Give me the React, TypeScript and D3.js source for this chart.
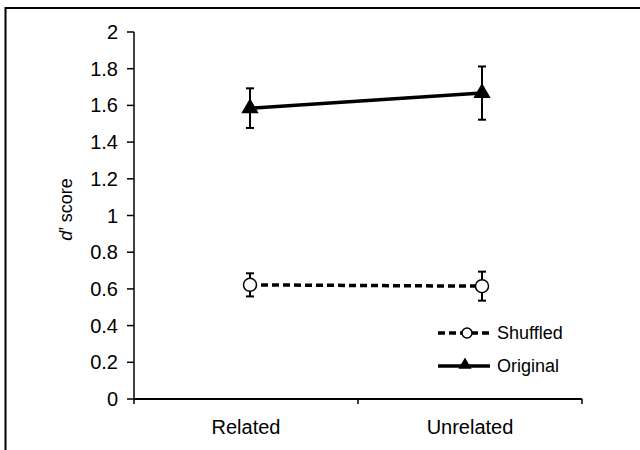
import React from 'react';
import * as d3 from 'd3';

// chart values
const categories = ['Related', 'Unrelated'];
const originalMeans = [1.585, 1.667];
const originalErrors = [0.108, 0.145];
const shuffledMeans = [0.622, 0.615];
const shuffledErrors = [0.063, 0.079];
const yTicks = [0, 0.2, 0.4, 0.6, 0.8, 1, 1.2, 1.4, 1.6, 1.8, 2];

const width = 640;
const height = 450;
const FONT = '"Liberation Sans", Arial, sans-serif';

const App = () => {
  const plot = { left: 134, right: 582, top: 32, bottom: 399 };

  const yScale = d3.scaleLinear().domain([0, 2]).range([plot.bottom, plot.top]);
  const xBand = d3.scaleBand().domain(categories).range([plot.left, plot.right]);
  // Excel places markers a little right of the band centre
  const xPoint = d3.scalePoint().domain(categories).range([250, 482]);

  const line = d3.line<number>()
    .x((_, i) => xPoint(categories[i]) as number)
    .y(d => yScale(d));

  const triangle = d3.symbol().type(d3.symbolTriangle).size(130);

  const dash = '7,4';

  const errorBar = (cx: number, mean: number, err: number, key: string) => {
    const y1 = yScale(mean + err);
    const y2 = yScale(mean - err);
    return (
      <g key={key} stroke="#000" strokeWidth={2}>
        <line x1={cx} x2={cx} y1={y1} y2={y2} />
        <line x1={cx - 4} x2={cx + 4} y1={y1} y2={y1} />
        <line x1={cx - 4} x2={cx + 4} y1={y2} y2={y2} />
      </g>
    );
  };

  const xTickPositions = [...categories.map(c => xBand(c) as number), plot.right];

  return (
    <svg
      width={width}
      height={height}
      style={{ position: 'absolute', left: 0, top: 0, background: '#fff' }}
      fontFamily={FONT}
    >
      <rect x={0} y={0} width={width} height={height} fill="#fff" />
      {/* outer frame, clipped on the right and bottom */}
      <path d={`M5.5,${height + 2}V8H${width + 2}`} fill="none" stroke="#000" strokeWidth={2} />

      {/* y axis */}
      <line x1={plot.left} x2={plot.left} y1={plot.top} y2={plot.bottom} stroke="#000" strokeWidth={1.5} />
      {yTicks.map(t => (
        <g key={t} transform={`translate(0,${yScale(t)})`}>
          <line x1={plot.left - 7} x2={plot.left} stroke="#000" strokeWidth={1.5} />
          <text x={plot.left - 16} dy="0.35em" textAnchor="end" fontSize={20} fill="#000">
            {t}
          </text>
        </g>
      ))}
      <text
        transform={`translate(72,${(plot.top + plot.bottom) / 2 - 6}) rotate(-90)`}
        textAnchor="middle"
        fontSize={18}
        fill="#000"
      >
        <tspan fontStyle="italic">d</tspan>’ score
      </text>

      {/* x axis */}
      <line x1={plot.left} x2={plot.right} y1={plot.bottom} y2={plot.bottom} stroke="#000" strokeWidth={2} />
      {xTickPositions.map((x, i) => (
        <line key={i} x1={x} x2={x} y1={plot.bottom} y2={plot.bottom + 5} stroke="#000" strokeWidth={1.5} />
      ))}
      {categories.map(c => (
        <text
          key={c}
          x={(xBand(c) as number) + xBand.bandwidth() / 2}
          y={434}
          textAnchor="middle"
          fontSize={20}
          fill="#000"
        >
          {c}
        </text>
      ))}

      {/* Original series */}
      <path d={line(originalMeans) as string} fill="none" stroke="#000" strokeWidth={3.5} />
      {originalMeans.map((m, i) =>
        errorBar(xPoint(categories[i]) as number, m, originalErrors[i], `oe${i}`)
      )}
      {originalMeans.map((m, i) => (
        <path
          key={`ot${i}`}
          d={triangle() as string}
          transform={`translate(${xPoint(categories[i])},${yScale(m)})`}
          fill="#000"
        />
      ))}

      {/* Shuffled series */}
      <path d={line(shuffledMeans) as string} fill="none" stroke="#000" strokeWidth={3.5} strokeDasharray={dash} />
      {shuffledMeans.map((m, i) =>
        errorBar(xPoint(categories[i]) as number, m, shuffledErrors[i], `se${i}`)
      )}
      {shuffledMeans.map((m, i) => (
        <circle
          key={`sc${i}`}
          cx={xPoint(categories[i]) as number}
          cy={yScale(m)}
          r={6.5}
          fill="#fff"
          stroke="#000"
          strokeWidth={1.5}
        />
      ))}

      {/* legend */}
      <g transform="translate(438,333)">
        <line x1={0} x2={52} y1={0} y2={0} stroke="#000" strokeWidth={3.5} strokeDasharray={dash} />
        <circle cx={29} cy={0} r={5} fill="#fff" stroke="#000" strokeWidth={1.5} />
        <text x={59} dy="0.35em" fontSize={18} fill="#000">Shuffled</text>
      </g>
      <g transform="translate(438,366)">
        <line x1={0} x2={52} y1={0} y2={0} stroke="#000" strokeWidth={3.5} />
        <path d={d3.symbol().type(d3.symbolTriangle).size(75)() as string} transform="translate(27,-1)" fill="#000" />
        <text x={59} dy="0.35em" fontSize={18} fill="#000">Original</text>
      </g>
    </svg>
  );
};

export default App;
